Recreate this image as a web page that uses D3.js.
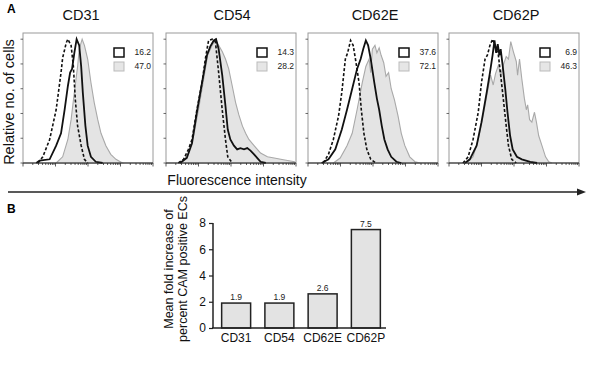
<!DOCTYPE html>
<html>
<head>
<meta charset="utf-8">
<script src="https://cdn.jsdelivr.net/npm/d3@7"></script>
<style>
  body { margin: 0; background: #fff; }
  svg { display: block; font-family: "Liberation Sans", Arial, sans-serif; }
</style>
</head>
<body>
<svg id="chart" width="600" height="368"></svg>
<script>
// panel A : histograms, x in log decades of fluorescence, y relative count (peak = 100)
const markers = ['CD31', 'CD54', 'CD62E', 'CD62P'];
const untreatedPct = ['16.2', '14.3', '37.6', '6.9'];
const treatedPct = ['47.0', '28.2', '72.1', '46.3'];

const isotypeCD31 = [[0.46,0],[0.61,5],[0.82,19],[1.02,43],[1.17,73],[1.22,85],[1.33,97],[1.38,100],[1.48,95],[1.55,78],[1.61,51],[1.68,30],[1.79,14],[1.89,3],[1.99,0]];
const untreatedCD31 = [[0.41,0],[0.51,2],[0.82,3],[1.02,14],[1.17,24],[1.28,43],[1.38,62],[1.45,73],[1.51,76],[1.58,89],[1.65,100],[1.73,95],[1.79,78],[1.84,57],[1.92,30],[1.99,14],[2.09,5],[2.24,1],[2.45,0]];
const treatedCD31 = [[1.02,0],[1.22,5],[1.38,19],[1.48,35],[1.58,57],[1.68,78],[1.73,92],[1.82,100],[1.89,95],[1.99,84],[2.09,65],[2.19,49],[2.30,35],[2.40,24],[2.55,14],[2.70,7],[2.86,3],[3.06,0]];

const isotypeCD54 = [[0.38,0],[0.54,3],[0.69,11],[0.80,19],[0.95,43],[1.11,65],[1.21,84],[1.31,99],[1.42,100],[1.52,98],[1.62,73],[1.73,43],[1.83,19],[1.90,5],[2.04,0]];
const untreatedCD54 = [[0.43,0],[0.64,4],[0.80,16],[0.95,41],[1.11,65],[1.26,87],[1.36,94],[1.47,99],[1.54,100],[1.62,92],[1.73,71],[1.83,46],[1.90,27],[1.98,19],[2.09,14],[2.19,11],[2.29,12],[2.40,11],[2.50,12],[2.60,10],[2.71,7],[2.81,4],[2.91,1],[3.07,0]];
const treatedCD54 = [[0.49,0],[0.69,8],[0.85,22],[1.00,43],[1.16,68],[1.28,87],[1.42,95],[1.52,100],[1.62,95],[1.73,90],[1.83,84],[1.93,76],[2.04,62],[2.14,49],[2.24,39],[2.35,30],[2.45,24],[2.55,19],[2.71,14],[2.91,8],[3.12,5],[3.33,4],[3.53,3],[3.74,2],[3.95,1]];

const isotypeCD62E = [[0.47,0],[0.63,7],[0.78,19],[0.94,38],[1.04,57],[1.15,84],[1.22,89],[1.31,99],[1.39,95],[1.46,84],[1.57,65],[1.64,43],[1.72,24],[1.81,11],[1.93,3],[2.09,0]];
const untreatedCD62E = [[0.42,0],[0.63,3],[0.84,11],[1.04,27],[1.20,43],[1.36,60],[1.51,76],[1.62,84],[1.70,92],[1.78,99],[1.85,95],[1.93,84],[2.04,65],[2.12,52],[2.19,43],[2.27,30],[2.35,19],[2.45,11],[2.56,5],[2.72,1],[2.87,0]];
const treatedCD62E = [[0.78,0],[0.99,4],[1.20,14],[1.36,24],[1.51,43],[1.67,65],[1.78,78],[1.88,84],[1.93,73],[1.98,92],[2.06,95],[2.12,89],[2.19,93],[2.25,87],[2.33,81],[2.40,70],[2.48,73],[2.56,60],[2.66,51],[2.77,38],[2.87,24],[2.98,14],[3.13,5],[3.29,1],[3.45,0]];

const isotypeCD62P = [[0.43,0],[0.59,5],[0.74,19],[0.90,41],[1.00,65],[1.11,84],[1.18,87],[1.26,95],[1.34,100],[1.42,95],[1.52,87],[1.59,71],[1.67,52],[1.76,30],[1.83,14],[1.93,3],[2.07,0]];
const untreatedCD62P = [[0.49,0],[0.64,3],[0.85,14],[1.00,33],[1.16,57],[1.26,73],[1.34,87],[1.40,99],[1.45,89],[1.50,96],[1.55,87],[1.59,92],[1.65,79],[1.73,60],[1.80,41],[1.88,22],[1.96,11],[2.09,5],[2.24,3],[2.50,1],[2.71,0]];
const treatedCD62P = [[0.54,0],[0.74,5],[0.90,19],[1.05,38],[1.18,57],[1.28,71],[1.36,63],[1.43,72],[1.52,79],[1.59,71],[1.67,79],[1.76,86],[1.83,84],[1.90,98],[1.98,90],[2.07,82],[2.11,71],[2.17,84],[2.24,68],[2.32,52],[2.38,43],[2.42,47],[2.48,35],[2.55,33],[2.63,41],[2.69,33],[2.76,22],[2.86,14],[2.97,5],[3.07,1],[3.17,0]];

const isotypeCurves = [isotypeCD31, isotypeCD54, isotypeCD62E, isotypeCD62P];
const untreatedCurves = [untreatedCD31, untreatedCD54, untreatedCD62E, untreatedCD62P];
const treatedCurves = [treatedCD31, treatedCD54, treatedCD62E, treatedCD62P];

// panel B : mean fold increase
const foldIncrease = [1.9, 1.9, 2.6, 7.5];
const foldTicks = [0, 2, 4, 6, 8];

const svg = d3.select('#chart');
const panelLeft = [23, 166, 308, 449];
const panelW = 130;
const panelTop = 33, panelBottom = 163;
const titleShift = [-7, 1, 2, 2];

svg.append('text').attr('x', 7).attr('y', 13)
  .attr('font-size', 12).attr('font-weight', 'bold').text('A');

svg.append('text')
  .attr('transform', 'translate(14,' + 102 + ') rotate(-90)')
  .attr('text-anchor', 'middle').attr('font-size', 14.5).attr('fill', '#111')
  .text('Relative no. of cells');

markers.forEach(function(m, i) {
  drawHistogram(i);
});

function drawHistogram(i) {
  const x0 = panelLeft[i];
  const g = svg.append('g');

  const x = d3.scaleLinear().domain([0, 4]).range([x0, x0 + panelW]);
  const y = d3.scaleLinear().domain([0, 105]).range([panelBottom, panelTop]);

  // box
  g.append('rect')
    .attr('x', x0).attr('y', panelTop)
    .attr('width', panelW).attr('height', panelBottom - panelTop)
    .attr('fill', 'none').attr('stroke', '#9a9a9a').attr('stroke-width', 1);

  const area = d3.area()
    .x(d => x(d[0])).y0(y(0)).y1(d => y(d[1]));
  const line = d3.line()
    .x(d => x(d[0])).y(d => y(d[1]));

  g.append('path').attr('d', area(treatedCurves[i]))
    .attr('fill', '#e4e4e4').attr('stroke', '#a9a9a9').attr('stroke-width', 1.1);
  g.append('path').attr('d', line(untreatedCurves[i]))
    .attr('fill', 'none').attr('stroke', '#111').attr('stroke-width', 1.8);
  g.append('path').attr('d', line(isotypeCurves[i]))
    .attr('fill', 'none').attr('stroke', '#111').attr('stroke-width', 1.6)
    .attr('stroke-dasharray', '3,2');

  // log ticks along the bottom
  const logTicks = [];
  for (let dec = 0; dec < 4; dec++) {
    for (let k = 1; k < 10; k++) logTicks.push(dec + Math.log10(k));
  }
  logTicks.push(4);
  g.selectAll('.xt').data(logTicks).enter().append('line')
    .attr('x1', d => x(d)).attr('x2', d => x(d))
    .attr('y1', panelBottom)
    .attr('y2', d => panelBottom + (Math.abs(d - Math.round(d)) < 1e-6 ? 3.5 : 2))
    .attr('stroke', '#333').attr('stroke-width', 0.8);
  g.append('line')
    .attr('x1', x0).attr('x2', x0 + panelW)
    .attr('y1', panelBottom).attr('y2', panelBottom)
    .attr('stroke', '#222').attr('stroke-width', 1.2);

  // y ticks
  g.selectAll('.yt').data([0, 20, 40, 60, 80, 100]).enter().append('line')
    .attr('x1', x0 - 2.5).attr('x2', x0)
    .attr('y1', d => y(d)).attr('y2', d => y(d))
    .attr('stroke', '#444').attr('stroke-width', 0.8);

  // title
  svg.append('text')
    .attr('x', x0 + panelW / 2 + titleShift[i]).attr('y', 20)
    .attr('text-anchor', 'middle').attr('font-size', 14.5).attr('fill', '#111')
    .text(markers[i]);

  // legend boxes
  g.append('rect').attr('x', x0 + 91).attr('y', 48)
    .attr('width', 10).attr('height', 9)
    .attr('fill', '#fff').attr('stroke', '#111').attr('stroke-width', 1.5);
  g.append('rect').attr('x', x0 + 91).attr('y', 62)
    .attr('width', 10).attr('height', 9)
    .attr('fill', '#e6e6e6').attr('stroke', '#bbb').attr('stroke-width', 1);
  g.append('text').attr('x', x0 + panelW - 2).attr('y', 55)
    .attr('text-anchor', 'end').attr('font-size', 8.5).attr('fill', '#222')
    .text(untreatedPct[i]);
  g.append('text').attr('x', x0 + panelW - 2).attr('y', 69)
    .attr('text-anchor', 'end').attr('font-size', 8.5).attr('fill', '#222')
    .text(treatedPct[i]);
}

svg.append('text').attr('x', 237).attr('y', 185)
  .attr('text-anchor', 'middle').attr('font-size', 14).attr('fill', '#111')
  .text('Fluorescence intensity');

// long arrow
svg.append('line').attr('x1', 8).attr('x2', 580).attr('y1', 192).attr('y2', 192)
  .attr('stroke', '#222').attr('stroke-width', 1.3);
svg.append('path').attr('d', 'M577,188.5L586,192L577,195.5Z').attr('fill', '#222');

// ---- panel B ----
svg.append('text').attr('x', 7).attr('y', 213)
  .attr('font-size', 12).attr('font-weight', 'bold').text('B');

const bx = d3.scaleBand().domain(markers).range([213, 389])
  .paddingInner(0.33).paddingOuter(0.2);
const by = d3.scaleLinear().domain([0, 8]).range([328, 223]);

const bars = svg.append('g');
bars.selectAll('rect').data(foldIncrease).enter().append('rect')
  .attr('x', (d, i) => bx(markers[i]))
  .attr('y', d => by(d))
  .attr('width', bx.bandwidth())
  .attr('height', d => by(0) - by(d))
  .attr('fill', '#e3e3e3').attr('stroke', '#222').attr('stroke-width', 1.5);

bars.selectAll('.val').data(foldIncrease).enter().append('text')
  .attr('x', (d, i) => bx(markers[i]) + bx.bandwidth() / 2)
  .attr('y', d => by(d) - 3)
  .attr('text-anchor', 'middle').attr('font-size', 8.5).attr('fill', '#222')
  .text(d => d.toFixed(1));

const yAxis = svg.append('g').attr('transform', 'translate(213,0)')
  .call(d3.axisLeft(by).tickValues(foldTicks).tickSize(4).tickPadding(3));
yAxis.select('.domain').attr('stroke', '#222').attr('stroke-width', 1.5)
  .attr('d', 'M0,' + by(8) + 'V' + by(0));
yAxis.selectAll('.tick line').attr('stroke', '#222').attr('stroke-width', 1.2);
yAxis.selectAll('.tick text').attr('font-size', 12).attr('fill', '#111')
  .attr('font-family', '"Liberation Sans", Arial, sans-serif');

svg.append('line').attr('x1', 212).attr('x2', 386).attr('y1', by(0)).attr('y2', by(0))
  .attr('stroke', '#222').attr('stroke-width', 1.5);

svg.selectAll('.cat').data(markers).enter().append('text')
  .attr('x', d => bx(d) + bx.bandwidth() / 2).attr('y', 342)
  .attr('text-anchor', 'middle').attr('font-size', 12).attr('fill', '#111')
  .text(d => d);

const yLab = svg.append('text')
  .attr('transform', 'translate(0,' + 269 + ') rotate(-90)')
  .attr('text-anchor', 'middle').attr('font-size', 12.5).attr('fill', '#111');
yLab.append('tspan').attr('x', 0).attr('y', 173).text('Mean fold increase of');
yLab.append('tspan').attr('x', 0).attr('y', 187).text('percent CAM positive ECs');
</script>
</body>
</html>
